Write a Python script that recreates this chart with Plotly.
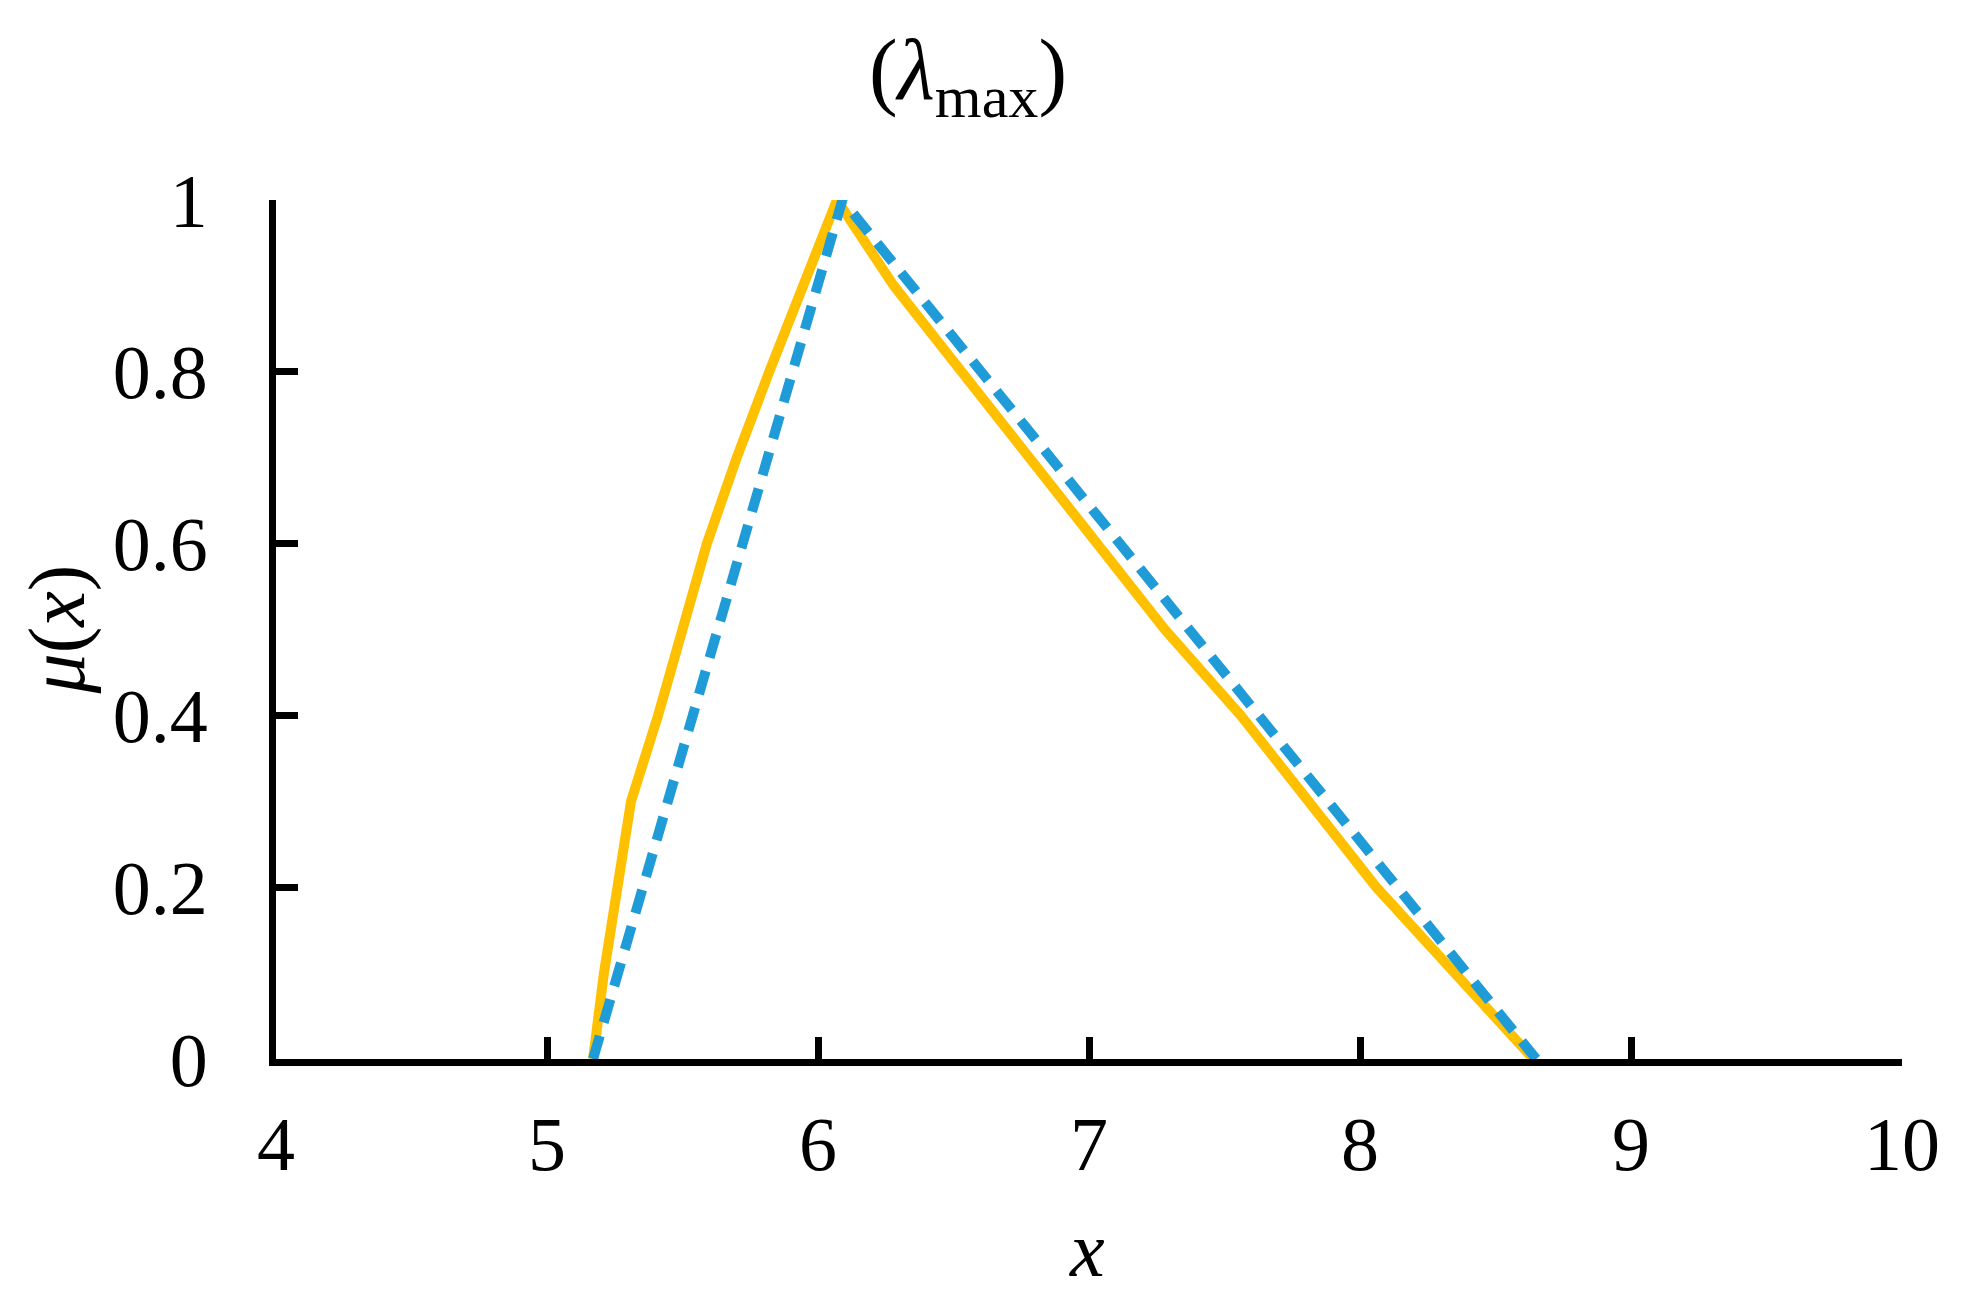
import plotly.graph_objects as go

# ---- data ----
yellow_x = [5.17, 5.21, 5.31, 5.41, 5.59, 5.70, 5.82, 6.07, 6.28, 6.78, 7.28, 7.56, 8.06, 8.64]
yellow_y = [0.0, 0.1, 0.3, 0.4, 0.6, 0.7, 0.8, 1.0, 0.9, 0.7, 0.5, 0.4, 0.2, 0.0]

blue_x = [5.17, 6.09, 8.65]
blue_y = [0.0, 1.0, 0.0]

x_ticks = [4, 5, 6, 7, 8, 9, 10]
x_tick_text = ["4", "5", "6", "7", "8", "9", "10"]
y_ticks = [0, 0.2, 0.4, 0.6, 0.8, 1.0]
y_tick_text = ["0", "0.2", "0.4", "0.6", "0.8", "1"]

FONT = "Liberation Serif"
W, H = 1966, 1307
# page body adds an 8px offset; margins compensate
L, R, T, B = 268, 72, 192, 256

fig = go.Figure()
fig.add_trace(go.Scatter(x=yellow_x, y=yellow_y, mode="lines",
                         line=dict(color="#FFC000", width=10), showlegend=False))
fig.add_trace(go.Scatter(x=blue_x, y=blue_y, mode="lines",
                         line=dict(color="#1F9BD7", width=10, dash="24px,14px"),
                         showlegend=False))

axis_common = dict(showgrid=False, zeroline=False, showline=True, linecolor="black",
                   linewidth=7, ticks="inside", ticklen=22, tickwidth=7, tickcolor="black",
                   tickfont=dict(family=FONT, size=76, color="black"))

fig.update_xaxes(range=[4, 10], tickvals=x_ticks, ticktext=x_tick_text,
                 ticklabelstandoff=13, **axis_common)
fig.update_yaxes(range=[0, 1], tickvals=y_ticks, ticktext=y_tick_text,
                 ticklabelstandoff=46, **axis_common)

plot_w = W - L - R
plot_h = H - T - B

fig.add_annotation(text="<i>μ</i>(<i>x</i>)", textangle=-90, showarrow=False,
                   xref="paper", yref="paper",
                   x=(49 - L) / plot_w, y=0.5, xanchor="center", yanchor="middle",
                   font=dict(family=FONT, size=80, color="black"))
fig.add_annotation(text="<i>x</i>", showarrow=False, xref="paper", yref="paper",
                   x=(1079 - L) / plot_w, y=-(1241 - (H - B)) / plot_h,
                   xanchor="center", yanchor="middle",
                   font=dict(family=FONT, size=78, color="black"))

fig.update_layout(
    width=W, height=H,
    margin=dict(l=L, r=R, t=T, b=B),
    paper_bgcolor="white", plot_bgcolor="white",
    title=dict(text="(<i>λ</i><sub>max</sub>)", x=960 / W, xanchor="center",
               xref="container", yref="container", y=1 - 31 / H, yanchor="top",
               font=dict(family=FONT, size=86, color="black")),
)

fig.write_html("out.html")
